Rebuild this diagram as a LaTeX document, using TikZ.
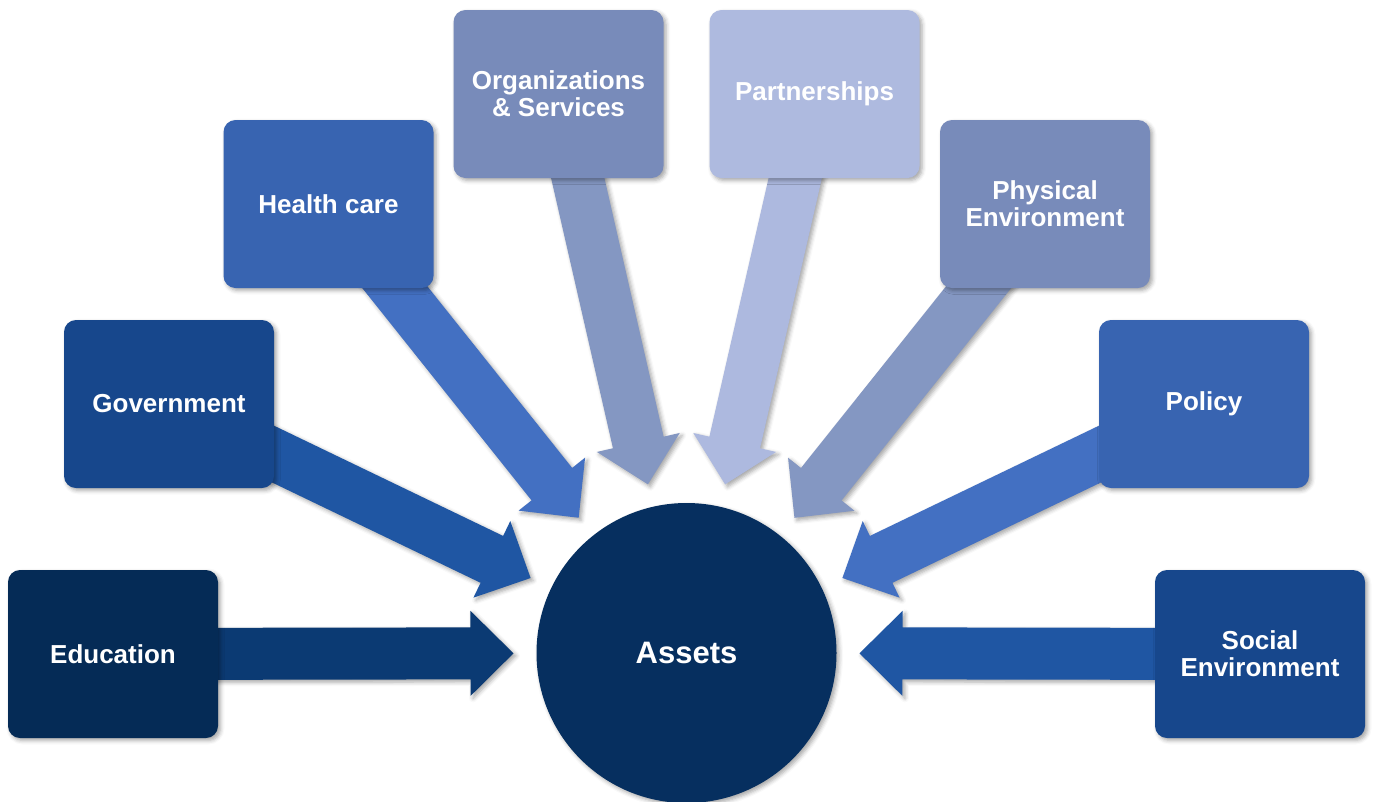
\documentclass[tikz,border=0pt]{standalone}
\usepackage{fontspec}
\setmainfont{Liberation Sans}
\usetikzlibrary{calc,shadows.blur}
\pgfdeclarelayer{bg}
\pgfsetlayers{bg,main}

\definecolor{cEdu}{HTML}{052B56}
\definecolor{aEdu}{HTML}{0B3A73}
\definecolor{cGov}{HTML}{17478C}
\definecolor{aGov}{HTML}{1F56A3}
\definecolor{cHea}{HTML}{3864B1}
\definecolor{aHea}{HTML}{4370C2}
\definecolor{cOrg}{HTML}{788BBA}
\definecolor{aOrg}{HTML}{8497C2}
\definecolor{cPar}{HTML}{AEBADF}
\definecolor{aPar}{HTML}{ADB9DF}
\definecolor{cAss}{HTML}{062F5F}

\tikzset{
  sh/.style={blur shadow={shadow xshift=2.5pt, shadow yshift=-2.5pt, shadow blur radius=4pt, shadow opacity=35}},
  sourcebox/.style={rectangle, rounded corners=12pt, minimum width=210pt, minimum height=168pt,
    inner sep=0pt, text=white, align=center, font=\bfseries\fontsize{26}{28}\selectfont, sh},
  hub/.style={circle, minimum size=300pt, inner sep=0pt, fill=cAss, text=white,
    font=\bfseries\fontsize{31}{34}\selectfont, sh},
  flow/.style={sh}
}

\newcommand{\flowarrow}[3]{%
  \coordinate (T#1) at ($(#2.center)!173pt!(#1.center)$);
  \coordinate (H#1) at ($(T#1)!43pt!(#1.center)$);
  \fill[#3, flow] ($(#1.center)!26pt!90:(T#1)$) -- ($(H#1)!26pt!90:(T#1)$)
     -- ($(H#1)!42.5pt!90:(T#1)$) -- (T#1) -- ($(H#1)!42.5pt!-90:(T#1)$)
     -- ($(H#1)!26pt!-90:(T#1)$) -- ($(#1.center)!26pt!-90:(T#1)$) -- cycle;
}

\begin{document}
\begin{tikzpicture}[x=1pt,y=-1pt]
\useasboundingbox (0,0) rectangle (1373,801);

\node[hub] (assets) at (686.5,653) {Assets};

\node[sourcebox, fill=cEdu] (edu) at (113,654) {Education};
\node[sourcebox, fill=cGov] (gov) at (169,404) {Government};
\node[sourcebox, fill=cHea] (hea) at (328.5,204) {Health care};
\node[sourcebox, fill=cOrg] (org) at (558.5,94) {Organizations\\[-1pt]\& Services};
\node[sourcebox, fill=cPar] (par) at (814.5,94) {Partnerships};
\node[sourcebox, fill=cOrg] (phy) at (1045,204) {Physical\\[-1pt]Environment};
\node[sourcebox, fill=cHea] (pol) at (1204,404) {Policy};
\node[sourcebox, fill=cGov] (soc) at (1260,654) {Social\\[-1pt]Environment};

\begin{pgfonlayer}{bg}
\flowarrow{edu}{assets}{aEdu}
\flowarrow{gov}{assets}{aGov}
\flowarrow{hea}{assets}{aHea}
\flowarrow{org}{assets}{aOrg}
\flowarrow{par}{assets}{aPar}
\flowarrow{phy}{assets}{aOrg}
\flowarrow{pol}{assets}{aHea}
\flowarrow{soc}{assets}{aGov}
\end{pgfonlayer}
\end{tikzpicture}
\end{document}
